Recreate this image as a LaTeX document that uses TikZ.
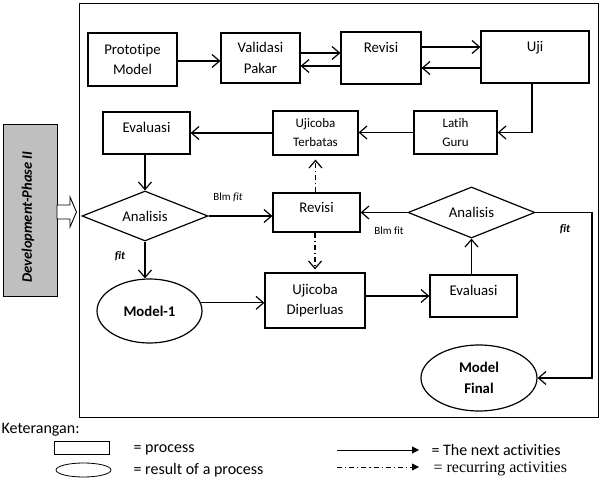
\documentclass[tikz,border=0pt]{standalone}
\usepackage{fontspec}
\setmainfont{Carlito}[Ligatures=NoCommon]
\newfontfamily\timesfont{Liberation Serif}
\usetikzlibrary{arrows.meta,shapes.geometric}
\begin{document}
\begin{tikzpicture}[x=1pt,y=-1pt,line width=1.2pt,
  box/.style={draw,rectangle,inner sep=0pt,align=center,font=\fontsize{14.8}{20.5}\selectfont},
  sbox/.style={box,font=\fontsize{13}{19}\selectfont},
  dmd/.style={draw,diamond,inner sep=0pt,aspect=2.5,font=\fontsize{14.8}{20.5}\selectfont},
  ell/.style={draw,ellipse,inner sep=0pt,align=center,font=\bfseries\fontsize{14.8}{21}\selectfont},
  arr/.style={-{Straight Barb[length=7.5pt,width=13pt]}},
  dd/.style={arr,dash pattern=on 5pt off 3pt on 1.2pt off 3pt},
  lbl/.style={inner sep=0pt,font=\fontsize{11}{13}\selectfont},
  fitl/.style={inner sep=0pt,font=\bfseries\itshape\fontsize{11.5}{13}\selectfont},
  legtxt/.style={inner sep=0pt,anchor=west,font=\fontsize{16}{19}\selectfont},
  legarr/.style={line width=0.9pt,-{Triangle[length=7pt,width=7pt]}}
]
\useasboundingbox (0,0) rectangle (603,489);

% outer frame
\draw[line width=1pt] (79,4) rectangle (598,417);

% phase box
\node[draw,line width=1pt,fill=gray!50,minimum width=54pt,minimum height=172pt,inner sep=0pt] (phase) at (30,211) {};
\node[rotate=90,inner sep=0pt,font=\bfseries\itshape\fontsize{14.5}{17}\selectfont] (phasetxt) at (28,217) {Development-Phase II};
\draw[fill=white,line width=0.9pt] (57,205) -- (70,205) -- (70,197) -- (76.5,212) -- (70,227) -- (70,219) -- (57,219) -- cycle;

% process boxes
\node[box,minimum width=89pt,minimum height=53pt] (proto) at (132.5,59.5) {Prototipe\\Model};
\node[box,minimum width=79pt,minimum height=50pt] (valid) at (260.5,58) {Validasi\\Pakar};
\node[box,minimum width=80pt,minimum height=52pt] (rev1) at (381,58) {Revisi\\\mbox{}};
\node[box,minimum width=108pt,minimum height=52pt] (uji) at (535,57) {Uji\\\mbox{}};
\node[sbox,minimum width=83pt,minimum height=43pt] (latih) at (455.5,132.5) {Latih\\Guru};
\node[sbox,minimum width=85pt,minimum height=44pt] (ujiT) at (315.5,133) {Ujicoba\\Terbatas};
\node[box,minimum width=87pt,minimum height=42pt] (eval1) at (146.5,133) {Evaluasi\\[-10pt]\mbox{}};
\node[dmd,minimum width=126pt,minimum height=50pt] (ana1) at (145,216) {Analisis};
\node[box,minimum width=87pt,minimum height=39pt] (rev2) at (316.5,212.5) {Revisi\\[-10pt]\mbox{}};
\node[ell,minimum width=105pt,minimum height=64pt] (model1) at (149.5,311) {Model-1};
\node[box,minimum width=100pt,minimum height=55pt] (ujiD) at (315,300.5) {Ujicoba\\Diperluas};
\node[box,minimum width=87pt,minimum height=42pt] (eval2) at (473.5,296) {Evaluasi\\[-10pt]\mbox{}};
\node[dmd,minimum width=127pt,minimum height=51pt] (ana2) at (471.5,212.5) {Analisis};
\node[ell,minimum width=116pt,minimum height=66pt] (modelF) at (479,378) {Model\\Final};

% connectors
\coordinate (yA) at (0,61);
\coordinate (yB) at (0,53);
\coordinate (yC) at (0,66);
\coordinate (yD) at (0,47);
\coordinate (yE) at (0,68);
\coordinate (xU) at (532,0);
\coordinate (xR) at (592,0);

\draw[arr] (proto.east |- yA) -- (valid.west |- yA);
\draw[arr] (valid.east |- yB) -- (rev1.west |- yB);
\draw[arr] (rev1.west |- yC) -- (valid.east |- yC);
\draw[arr] (rev1.east |- yD) -- (uji.west |- yD);
\draw[arr] (uji.west |- yE) -- (rev1.east |- yE);
\draw[arr] (uji.south -| xU) |- (latih.east);
\draw[arr] (latih.west) -- (ujiT.east |- latih.west);
\draw[arr] (ujiT.west) -- (eval1.east |- ujiT.west);
\draw[arr] (eval1.south -| ana1.north) -- (ana1.north);
\draw[arr] (ana1.east) -- (rev2.west |- ana1.east);
\draw[arr] (ana1.south) -- (ana1.south |- model1.north);
\draw[arr] (model1.9) -- (model1.9 -| ujiD.west);
\draw[arr] (eval2.west -| ujiD.east) -- (eval2.west);
\draw[arr] (ana2.south |- eval2.north) -- (ana2.south);
\draw[arr] (ana2.west) -- (rev2.east |- ana2.west);
\draw[arr] (ana2.east) -- (ana2.east -| xR) |- (modelF.east);
\draw[dd,shorten >=4pt] (ujiT.south |- rev2.north) -- (ujiT.south);
\draw[dd,shorten >=3pt] (rev2.south -| ujiD.north) -- (ujiD.north);

% labels
\node[lbl] (l1) at (228,197) {Blm \textit{fit}};
\node[fitl] (l2) at (120,256) {fit};
\node[lbl] (l3) at (389,231) {Blm fit};
\node[fitl] (l4) at (565,229) {fit};

% legend
\node[legtxt] (ket) at (1,430) {Keterangan:};
\node[draw,line width=0.8pt,inner sep=0pt,minimum width=55pt,minimum height=13pt] (legbox) at (81.5,447.5) {};
\node[legtxt] (legp) at (133,450) {= process};
\node[draw,line width=0.8pt,ellipse,inner sep=0pt,minimum width=55pt,minimum height=14pt] (legell) at (83.5,470) {};
\node[legtxt] (legr) at (133,470) {= result of a process};
\coordinate (a1s) at (337,450);
\coordinate (a1e) at (419,450);
\coordinate (a2s) at (337,467);
\coordinate (a2e) at (419,467);
\draw[legarr] (a1s) -- (a1e);
\draw[legarr,dash pattern=on 5pt off 3pt on 1.2pt off 3pt] (a2s) -- (a2e);
\node[legtxt] (legn) at (431,450) {= The next activities};
\node[legtxt,font=\timesfont\fontsize{16}{19}\selectfont] (legc) at (433,469) {= recurring activities};
\end{tikzpicture}
\end{document}
